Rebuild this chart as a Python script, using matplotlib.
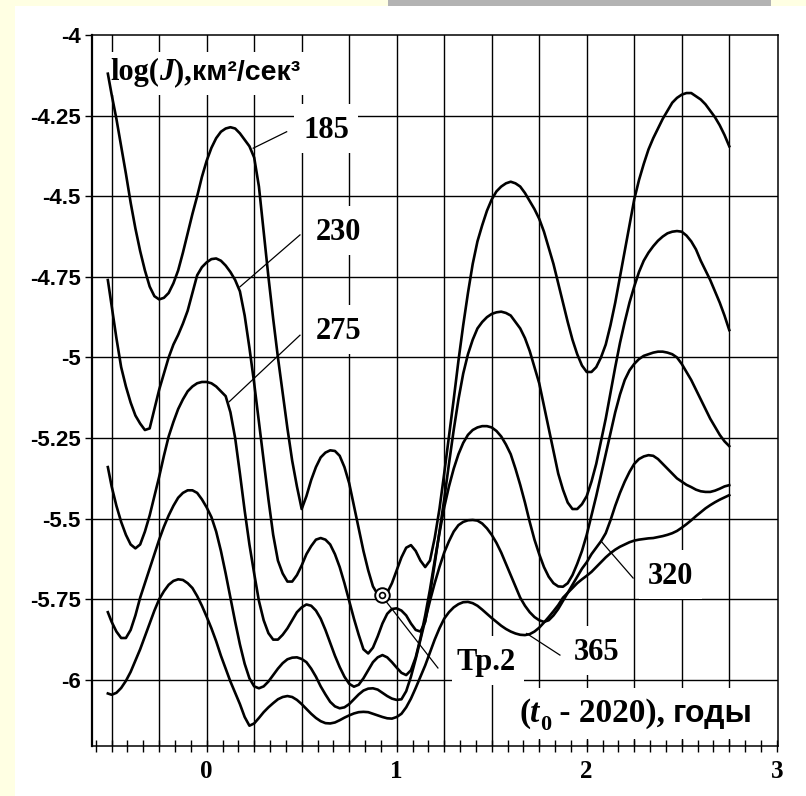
import matplotlib
matplotlib.use('Agg')
import matplotlib.pyplot as plt
import numpy as np
from matplotlib.patches import Rectangle

# годы от 2020: начало кривых, затем шаг 0.025
years = np.concatenate([[-0.52], np.round(np.arange(-0.5, 2.7501, 0.025), 3)])

h185 = [-4.12,
        -4.185, -4.26, -4.345, -4.43, -4.52, -4.60, -4.67, -4.73, -4.78, -4.81,
        -4.82, -4.815, -4.80, -4.77, -4.73, -4.675, -4.615, -4.555, -4.50, -4.44,
        -4.39, -4.35, -4.32, -4.30, -4.29, -4.286, -4.29, -4.305, -4.325, -4.345,
        -4.38, -4.47, -4.61, -4.75, -4.88, -5.00, -5.11, -5.22, -5.32, -5.40,
        -5.47, -5.43, -5.38, -5.34, -5.31, -5.295, -5.288, -5.29, -5.305, -5.34,
        -5.39, -5.46, -5.53, -5.60, -5.66, -5.71, -5.735, -5.745, -5.73, -5.70,
        -5.66, -5.62, -5.59, -5.582, -5.60, -5.63, -5.65, -5.63, -5.56, -5.47,
        -5.36, -5.245, -5.13, -5.01, -4.90, -4.80, -4.71, -4.64, -4.59, -4.545,
        -4.51, -4.485, -4.47, -4.46, -4.455, -4.46, -4.47, -4.49, -4.515, -4.54,
        -4.57, -4.61, -4.66, -4.71, -4.77, -4.83, -4.89, -4.945, -4.99, -5.025,
        -5.045, -5.045, -5.03, -5.00, -4.96, -4.90, -4.83, -4.75, -4.67, -4.59,
        -4.51, -4.45, -4.40, -4.355, -4.32, -4.29, -4.26, -4.235, -4.21, -4.195,
        -4.185, -4.18, -4.18, -4.19, -4.20, -4.215, -4.235, -4.255, -4.28, -4.31,
        -4.345]
h230 = [-4.76,
        -4.84, -4.94, -5.03, -5.09, -5.14, -5.18, -5.205, -5.225, -5.22, -5.16,
        -5.10, -5.05, -5.00, -4.96, -4.93, -4.895, -4.855, -4.80, -4.745, -4.72,
        -4.705, -4.695, -4.693, -4.70, -4.715, -4.735, -4.76, -4.795, -4.87, -4.97,
        -5.08, -5.20, -5.32, -5.44, -5.55, -5.63, -5.67, -5.695, -5.695, -5.675,
        -5.645, -5.61, -5.585, -5.565, -5.56, -5.565, -5.58, -5.61, -5.65, -5.70,
        -5.755, -5.81, -5.86, -5.905, -5.918, -5.90, -5.865, -5.825, -5.795, -5.78,
        -5.778, -5.785, -5.80, -5.825, -5.845, -5.85, -5.82, -5.735, -5.64, -5.54,
        -5.44, -5.33, -5.225, -5.13, -5.05, -4.99, -4.945, -4.91, -4.89, -4.875,
        -4.865, -4.86, -4.858, -4.862, -4.87, -4.89, -4.91, -4.94, -4.98, -5.03,
        -5.08, -5.15, -5.22, -5.29, -5.36, -5.41, -5.45, -5.47, -5.47, -5.455,
        -5.43, -5.385, -5.33, -5.26, -5.19, -5.11, -5.03, -4.955, -4.89, -4.83,
        -4.78, -4.735, -4.70, -4.675, -4.655, -4.638, -4.625, -4.615, -4.61, -4.608,
        -4.61, -4.622, -4.64, -4.665, -4.70, -4.73, -4.76, -4.795, -4.83, -4.87,
        -4.915]
h275 = [-5.34,
        -5.40, -5.46, -5.51, -5.55, -5.58, -5.592, -5.58, -5.54, -5.49, -5.43,
        -5.37, -5.305, -5.245, -5.20, -5.16, -5.13, -5.105, -5.09, -5.08, -5.076,
        -5.076, -5.08, -5.09, -5.105, -5.12, -5.17, -5.25, -5.36, -5.475, -5.58,
        -5.67, -5.755, -5.815, -5.855, -5.875, -5.875, -5.86, -5.84, -5.815, -5.79,
        -5.775, -5.766, -5.77, -5.785, -5.81, -5.845, -5.885, -5.925, -5.96, -5.99,
        -6.012, -6.021, -6.015, -5.995, -5.97, -5.945, -5.93, -5.923, -5.93, -5.945,
        -5.962, -5.978, -5.985, -5.97, -5.93, -5.87, -5.80, -5.72, -5.63, -5.545,
        -5.465, -5.40, -5.345, -5.30, -5.265, -5.24, -5.225, -5.217, -5.213, -5.213,
        -5.217, -5.228, -5.245, -5.27, -5.30, -5.345, -5.395, -5.45, -5.51, -5.565,
        -5.61, -5.65, -5.68, -5.70, -5.71, -5.711, -5.70, -5.675, -5.64, -5.60,
        -5.55, -5.49, -5.43, -5.365, -5.30, -5.235, -5.17, -5.115, -5.07, -5.04,
        -5.02, -5.005, -4.995, -4.99, -4.985, -4.982, -4.982, -4.985, -4.99, -5.00,
        -5.02, -5.045, -5.07, -5.10, -5.13, -5.16, -5.19, -5.215, -5.24, -5.26,
        -5.275]
h320 = [-5.79,
        -5.82, -5.85, -5.87, -5.87, -5.845, -5.80, -5.745, -5.70, -5.655, -5.61,
        -5.565, -5.525, -5.49, -5.46, -5.435, -5.42, -5.412, -5.412, -5.42, -5.44,
        -5.465, -5.495, -5.54, -5.60, -5.67, -5.745, -5.82, -5.89, -5.95, -5.995,
        -6.02, -6.026, -6.02, -6.005, -5.985, -5.965, -5.948, -5.936, -5.931, -5.93,
        -5.935, -5.945, -5.965, -5.99, -6.02, -6.045, -6.068, -6.082, -6.088, -6.085,
        -6.075, -6.06, -6.045, -6.033, -6.027, -6.026, -6.03, -6.04, -6.05, -6.058,
        -6.062, -6.06, -6.035, -5.99, -5.935, -5.875, -5.815, -5.755, -5.70, -5.65,
        -5.605, -5.57, -5.54, -5.52, -5.51, -5.505, -5.504, -5.506, -5.515, -5.53,
        -5.55, -5.575, -5.605, -5.64, -5.675, -5.71, -5.745, -5.77, -5.79, -5.805,
        -5.815, -5.82, -5.815, -5.80, -5.78, -5.755, -5.73, -5.705, -5.68, -5.655,
        -5.635, -5.61, -5.59, -5.57, -5.545, -5.505, -5.46, -5.42, -5.385, -5.355,
        -5.33, -5.315, -5.307, -5.303, -5.305, -5.315, -5.33, -5.345, -5.36, -5.375,
        -5.385, -5.395, -5.402, -5.41, -5.415, -5.417, -5.417, -5.413, -5.407, -5.40,
        -5.396]
h365 = [-6.042,
        -6.046, -6.04, -6.025, -6.003, -5.975, -5.94, -5.905, -5.865, -5.825, -5.785,
        -5.75, -5.725, -5.705, -5.693, -5.688, -5.69, -5.70, -5.715, -5.74, -5.77,
        -5.804, -5.84, -5.88, -5.925, -5.965, -6.005, -6.04, -6.075, -6.115, -6.142,
        -6.135, -6.118, -6.10, -6.085, -6.072, -6.06, -6.053, -6.05, -6.053, -6.062,
        -6.075, -6.09, -6.105, -6.118, -6.128, -6.134, -6.135, -6.132, -6.125, -6.117,
        -6.11, -6.104, -6.10, -6.099, -6.10, -6.105, -6.11, -6.115, -6.119, -6.12,
        -6.115, -6.105, -6.085, -6.058, -6.025, -5.99, -5.955, -5.915, -5.875, -5.84,
        -5.81, -5.79, -5.775, -5.765, -5.759, -5.758, -5.762, -5.77, -5.782, -5.795,
        -5.808, -5.82, -5.832, -5.842, -5.85, -5.856, -5.86, -5.861, -5.858, -5.85,
        -5.838, -5.822, -5.805, -5.787, -5.768, -5.745, -5.73, -5.715, -5.70, -5.688,
        -5.677, -5.665, -5.65, -5.635, -5.62, -5.607, -5.596, -5.587, -5.58, -5.573,
        -5.568, -5.565, -5.563, -5.561, -5.56, -5.557, -5.554, -5.55, -5.545, -5.538,
        -5.528, -5.517, -5.505, -5.492, -5.48, -5.468, -5.458, -5.449, -5.441, -5.434,
        -5.427]

heights = ['185', '230', '275', '320', '365']
# подписи высот: (x, y) текста и выноска (точка на кривой -> к тексту)
label_xy = [(0.63, -4.296), (0.694, -4.613), (0.694, -4.918), (2.441, -5.678), (2.052, -5.915)]
leaders = [((0.245, -4.351), (0.421, -4.30)),
           ((0.175, -4.781), (0.491, -4.620)),
           ((0.119, -5.137), (0.491, -4.931)),
           ((2.079, -5.572), (2.244, -5.684)),
           ((1.684, -5.856), (1.859, -5.923))]
tr2_point = (0.921, -5.737)
tr2_text = (1.47, -5.946)

y_ticks = [-4, -4.25, -4.5, -4.75, -5, -5.25, -5.5, -5.75, -6]
y_labels = ['-4', '-4.25', '-4.5', '-4.75', '-5', '-5.25', '-5.5', '-5.75', '-6']
x_ticks = [0, 1, 2, 3]

SERIF = 'Liberation Serif'
SANS = 'Liberation Sans'

fig = plt.figure(figsize=(8.06, 7.96), dpi=100)
fig.patch.set_facecolor('white')
# фон слайда: жёлтая полоса слева и сверху, серая плашка
fig.add_artist(Rectangle((0, 0), 15 / 806, 1, transform=fig.transFigure, fc='#ffffe3', ec='none', zorder=0))
fig.add_artist(Rectangle((0, 1 - 6 / 796), 1, 6 / 796, transform=fig.transFigure, fc='#ffffe3', ec='none', zorder=0))
fig.add_artist(Rectangle((388 / 806, 1 - 6 / 796), 383 / 806, 6 / 796, transform=fig.transFigure, fc='#b3b3b3', ec='none', zorder=0))

ax = fig.add_axes([91.7 / 806, 50.3 / 796, 686 / 806, 710.7 / 796])
ax.set_xlim(-0.605, 3.005)
ax.set_ylim(-6.204, -4.0)

for gx in np.arange(-0.5, 2.76, 0.25):
    ax.axvline(gx, color='k', lw=1.0, zorder=1)
for gy in np.arange(-6, -4.2, 0.25):
    ax.axhline(gy, color='k', lw=1.0, zorder=1)

for s in ax.spines.values():
    s.set_linewidth(1.1)
ax.spines['left'].set_linewidth(1.6)

ax.set_yticks(y_ticks)
ax.set_yticklabels(y_labels)
ax.tick_params(axis='y', direction='out', length=5, width=1, pad=3, labelsize=16)
for lb in ax.get_yticklabels():
    lb.set_fontfamily(SANS)
    lb.set_fontweight('bold')
ax.set_xticks(x_ticks)
ax.set_xticklabels([str(v) for v in x_ticks])
ax.set_xticks([k / 12 for k in range(-7, 37) if k % 12], minor=True)
ax.tick_params(axis='x', which='both', direction='inout', length=8, width=1, pad=6, labelsize=18)
for lb in ax.get_xticklabels():
    lb.set_fontfamily(SERIF)
    lb.set_fontweight('bold')

for h in [h185, h230, h275, h320, h365]:
    ax.plot(years, h, color='k', lw=1.9, zorder=3, solid_joinstyle='round')

for (p0, p1) in leaders:
    ax.plot([p0[0], p1[0]], [p0[1], p1[1]], color='k', lw=0.9, zorder=3)
ax.plot([0.938, 1.217], [-5.752, -5.963], color='k', lw=0.9, zorder=3)
ax.plot(*tr2_point, marker='o', ms=10.5, mfc='white', mec='k', mew=1.4, zorder=4)
ax.plot(*tr2_point, marker='o', ms=4.2, mfc='white', mec='k', mew=1.2, zorder=4)

fig.canvas.draw()
rend = fig.canvas.get_renderer()
inv = ax.transData.inverted()


def white_box(exts, padl, padr, padt, padb):
    x0 = min(e.x0 for e in exts) - padl
    x1 = max(e.x1 for e in exts) + padr
    y0 = min(e.y0 for e in exts) - padb
    y1 = max(e.y1 for e in exts) + padt
    (dx0, dy0), (dx1, dy1) = inv.transform([(x0, y0), (x1, y1)])
    ax.add_patch(Rectangle((dx0, dy0), dx1 - dx0, dy1 - dy0, fc='white', ec='none', zorder=2))


def pieces(x, y, parts):
    off = 0.0
    exts = []
    for s, fam, style, size, dy in parts:
        t = ax.annotate(s, xy=(x, y), xytext=(off, dy), textcoords='offset points',
                        ha='left', va='baseline', fontfamily=fam, fontweight='bold',
                        fontstyle=style, fontsize=size, zorder=5)
        e = t.get_window_extent(rend)
        off += e.width * 72 / fig.dpi
        exts.append(e)
    return exts


for name, (tx, ty) in zip(heights, label_xy):
    t = ax.text(tx, ty, name, ha='center', va='center', fontfamily=SERIF,
                fontweight='bold', fontsize=22, zorder=5)
    white_box([t.get_window_extent(rend)], 9, 9, 12, 8)

t = ax.text(*tr2_text, 'Тр.2', ha='center', va='center', fontfamily=SERIF,
            fontweight='bold', fontsize=22, zorder=5)
white_box([t.get_window_extent(rend)], 4, 8, 12, 8)

ex = pieces(-0.509, -4.14, [('log(', SERIF, 'normal', 22, 0),
                            ('J', SERIF, 'italic', 22, 0),
                            ('),', SERIF, 'normal', 22, 0),
                            ('км²/сек³', SANS, 'normal', 20.5, 0)])
white_box(ex, 1, 10, 6, 8)

ex = pieces(1.645, -6.13, [('(', SERIF, 'normal', 24, 0),
                           ('t', SERIF, 'italic', 24, 0),
                           ('0', SERIF, 'normal', 16, -6),
                           (' - 2020), ', SERIF, 'normal', 24, 0),
                           ('годы', SANS, 'normal', 23, 0)])
white_box(ex, 8, 12, 10, 4)

fig.savefig('out.png', dpi=100, facecolor=fig.get_facecolor())
